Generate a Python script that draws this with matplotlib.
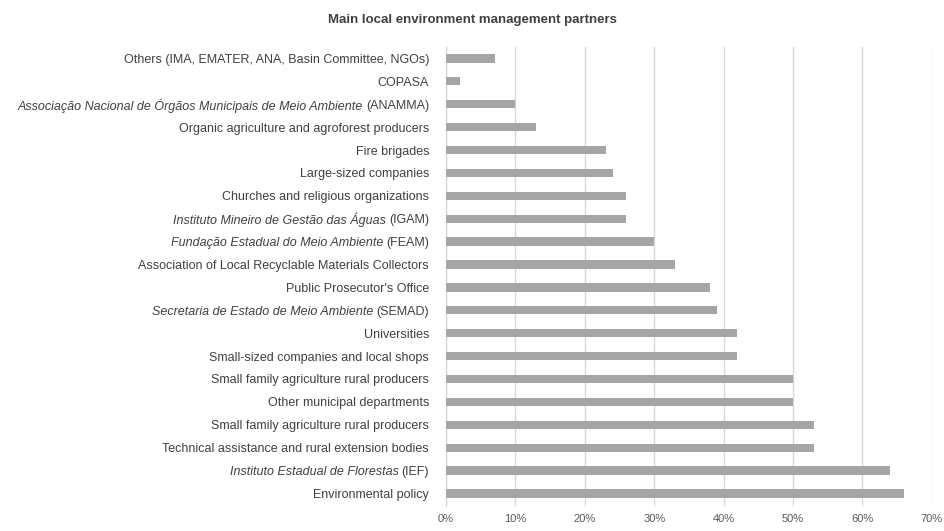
import matplotlib
matplotlib.use("Agg")
import matplotlib.pyplot as plt
from matplotlib.ticker import PercentFormatter
from matplotlib.transforms import offset_copy

plt.rcParams['font.family'] = ['Liberation Sans', 'DejaVu Sans']

# Labels top to bottom: italic part (may be empty) + plain part
label_italic = [
    "", "", "Associação Nacional de Órgãos Municipais de Meio Ambiente", "",
    "", "", "", "Instituto Mineiro de Gestão das Águas",
    "Fundação Estadual do Meio Ambiente", "", "", "Secretaria de Estado de Meio Ambiente",
    "", "", "", "", "", "", "Instituto Estadual de Florestas", "",
]
label_plain = [
    "Others (IMA, EMATER, ANA, Basin Committee, NGOs)",
    "COPASA",
    "(ANAMMA)",
    "Organic agriculture and agroforest producers",
    "Fire brigades",
    "Large-sized companies",
    "Churches and religious organizations",
    "(IGAM)",
    "(FEAM)",
    "Association of Local Recyclable Materials Collectors",
    "Public Prosecutor's Office",
    "(SEMAD)",
    "Universities",
    "Small-sized companies and local shops",
    "Small family agriculture rural producers",
    "Other municipal departments",
    "Small family agriculture rural producers",
    "Technical assistance and rural extension bodies",
    "(IEF)",
    "Environmental policy",
]
shares = [0.07, 0.02, 0.10, 0.13, 0.23, 0.24, 0.26, 0.26, 0.30, 0.33,
          0.38, 0.39, 0.42, 0.42, 0.50, 0.50, 0.53, 0.53, 0.64, 0.66]
xticks = [0, 0.1, 0.2, 0.3, 0.4, 0.5, 0.6, 0.7]

fig = plt.figure(figsize=(9.44, 5.31), dpi=100)
ax = fig.add_axes([0.4725, 0.047, 0.5145, 0.8645])

pos = list(range(len(shares)))
ax.barh(pos, shares, height=0.36, color="#a5a5a5", zorder=3)
ax.set_ylim(len(shares) - 0.45, -0.5)
ax.set_xlim(0, 0.7)
ax.set_xticks(xticks)
ax.xaxis.set_major_formatter(PercentFormatter(1.0, decimals=0))
ax.tick_params(axis='x', length=0, labelsize=8, labelcolor="#595959", pad=6)
ax.set_yticks([])
ax.grid(axis='x', color="#d9d9d9", linewidth=1, zorder=0)
for s in ['top', 'right', 'bottom']:
    ax.spines[s].set_visible(False)
ax.spines['left'].set_color("#d0d0d0")

# y labels drawn as text so part of them can be italic
fs = 9.0
renderer = fig.canvas.get_renderer()
trans = offset_copy(ax.get_yaxis_transform(), fig=fig, x=-17, y=0, units='dots')
for y, it, pl in zip(pos, label_italic, label_plain):
    t = ax.text(0, y, pl, transform=trans, ha='right', va='center_baseline',
                fontsize=fs, color="#404040")
    if it:
        w = t.get_window_extent(renderer).width
        trans_it = offset_copy(ax.get_yaxis_transform(), fig=fig,
                               x=-17 - w - 3, y=0, units='dots')
        ax.text(0, y, it, transform=trans_it, ha='right', va='center_baseline',
                fontsize=fs, color="#404040", style='italic')

fig.text(0.5, 0.962, "Main local environment management partners",
         ha='center', va='center', fontsize=9.5, fontweight='bold', color="#404040")

fig.savefig("out.png", dpi=100)
